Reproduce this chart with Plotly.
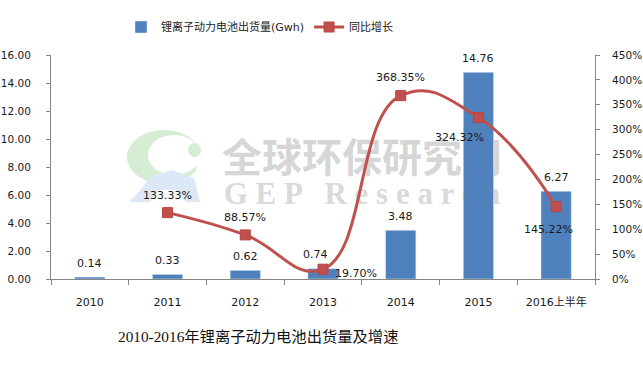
import plotly.graph_objects as go
import numpy as np

# ---------------- data ----------------
categories = ["2010", "2011", "2012", "2013", "2014", "2015", "2016上半年"]
shipments = [0.14, 0.33, 0.62, 0.74, 3.48, 14.76, 6.27]          # Gwh
growth = [None, 1.3333, 0.8857, 0.1970, 3.6835, 3.2432, 1.4522]   # YoY
growth_labels = ["", "133.33%", "88.57%", "19.70%", "368.35%", "324.32%", "145.22%"]
bar_labels = ["0.14", "0.33", "0.62", "0.74", "3.48", "14.76", "6.27"]
bar_name = "锂离子动力电池出货量(Gwh)"
line_name = "同比增长"
title_text = "2010-2016年锂离子动力电池出货量及增速"
wm_cn = "全球环保研究网"
wm_en = "G E P   R e s e a r c h"

# ---------------- layout geometry (pixels) ----------------
W, H = 643, 366
L, R, T, B = 51, 595, 55, 279
PW, PH = R - L, B - T

def px(x):
    return (x - L) / PW

def py(y):
    return (B - y) / PH

BLUE = "#4F81BD"
RED = "#C0504D"
AX = "#868686"
TXT = "#1a1a1a"
FONT = "DejaVu Sans, Verdana, sans-serif"
CJK = "DejaVu Sans, Noto Sans CJK SC, sans-serif"

fig = go.Figure()

# watermark on the hidden base subplot (drawn beneath the data subplots)
fig.add_trace(go.Scatter(x=[px(362)], y=[py(162)], mode="text", text=[wm_cn],
                         textfont=dict(family="Noto Sans CJK SC", size=40, color="#D6D6D6", weight="bold"),
                         xaxis="x", yaxis="y", showlegend=False, hoverinfo="skip"))
fig.add_trace(go.Scatter(x=[px(362)], y=[py(196)], mode="text", text=[wm_en],
                         textfont=dict(family="Liberation Serif", size=31, color="#DADADA", weight="bold"),
                         xaxis="x", yaxis="y", showlegend=False, hoverinfo="skip"))

# bars
fig.add_trace(go.Bar(x=categories, y=shipments, name=bar_name, marker=dict(color=BLUE),
                     width=0.39, xaxis="x2", yaxis="y2"))
# growth line
fig.add_trace(go.Scatter(x=categories, y=growth, name=line_name, mode="lines+markers",
                         line=dict(color=RED, width=3, shape="spline", smoothing=1.3),
                         marker=dict(symbol="square", size=10, color=RED,
                                     line=dict(color="#B8433F", width=1)),
                         xaxis="x2", yaxis="y3", connectgaps=False))

annotations = []
# bar value labels (category axis: annotation x is the category index)
bar_dx = [0, 0, 0, -8, 0, 0, 0]
for i, (v, t, dx) in enumerate(zip(shipments, bar_labels, bar_dx)):
    annotations.append(dict(x=i, y=v, xref="x2", yref="y2", text=t, showarrow=False,
                            yshift=14, xshift=dx, font=dict(family=FONT, size=11, color=TXT)))
# growth labels
offs = [(0, 0), (0, 17), (0, 17), (33, -4), (0, 18), (-19, -20), (-8, -23)]
for i, (g, t, (dx, dy)) in enumerate(zip(growth, growth_labels, offs)):
    if g is None:
        continue
    annotations.append(dict(x=i, y=g, xref="x2", yref="y3", text=t, showarrow=False,
                            xshift=dx, yshift=dy, font=dict(family=FONT, size=11, color=TXT)))
# title
annotations.append(dict(x=px(258), y=py(347), xref="paper", yref="paper", text=title_text,
                        showarrow=False, font=dict(family="Liberation Serif, Noto Sans CJK SC", size=15.3, color="#111")))

# logo (decorative) in pixel coords -> paper
shapes = []
th = np.linspace(np.radians(35), np.radians(330), 60)
outer = [(164 + 37 * np.cos(a), 157 - 27 * np.sin(a)) for a in th]
th2 = th[::-1]
inner = [(174 + 26 * np.cos(a), 155 - 20 * np.sin(a)) for a in th2]
pts = outer + inner
path = "M " + " L ".join(f"{px(x):.4f},{py(y):.4f}" for x, y in pts) + " Z"
shapes.append(dict(type="path", path=path, xref="paper", yref="paper", fillcolor="#D5EDD3",
                   line=dict(width=0), layer="below"))
shapes.append(dict(type="circle", xref="paper", yref="paper", x0=px(188), x1=px(201), y0=py(157), y1=py(143),
                   fillcolor="#D5EDD3", line=dict(width=0), layer="below"))
tri = [(130, 202), (152, 176), (172, 170), (194, 178), (200, 202), (186, 202), (176, 190), (158, 190), (150, 202)]
path2 = "M " + " L ".join(f"{px(x):.4f},{py(y):.4f}" for x, y in tri) + " Z"
shapes.append(dict(type="path", path=path2, xref="paper", yref="paper", fillcolor="#DCE8F6",
                   line=dict(width=0), layer="below"))

fig.update_layout(
    width=W, height=H,
    margin=dict(l=L, r=W - R, t=T, b=H - B, pad=0, autoexpand=False),
    paper_bgcolor="white", plot_bgcolor="white",
    showlegend=True,
    legend=dict(orientation="h", x=px(121), y=py(27), xanchor="left", yanchor="middle",
                font=dict(family=CJK, size=11, color="#222"), bgcolor="rgba(0,0,0,0)",
                tracegroupgap=0),
    xaxis=dict(domain=[0, 1], range=[0, 1], visible=False, fixedrange=True, automargin=False),
    yaxis=dict(domain=[0, 1], range=[0, 1], visible=False, fixedrange=True, automargin=False),
    xaxis2=dict(overlaying="x", anchor="y2", type="category", categoryorder="array",
                categoryarray=categories, range=[-0.5, len(categories) - 0.5], autorange=False,
                showline=True, linecolor=AX, linewidth=1, tickangle=0, automargin=False,
                ticks="outside", tickson="boundaries", ticklen=5, tickcolor=AX, showgrid=False,
                tickfont=dict(family=CJK, size=11, color=TXT), ticklabelstandoff=13, zeroline=False),
    yaxis2=dict(overlaying="y", anchor="x2", side="left", range=[0, 16], dtick=2, tickformat=".2f",
                showline=True, linecolor=AX, linewidth=1, ticks="outside", ticklen=4, tickcolor=AX,
                showgrid=False, zeroline=False, tickfont=dict(family=FONT, size=10.5, color=TXT),
                ticklabelstandoff=13, automargin=False),
    yaxis3=dict(overlaying="y", anchor="x2", side="right", range=[0, 4.5], dtick=0.5, tickformat=".0%",
                showline=True, linecolor=AX, linewidth=1, ticks="outside", ticklen=4, tickcolor=AX,
                showgrid=False, zeroline=False, tickfont=dict(family=FONT, size=10.5, color=TXT),
                ticklabelstandoff=10, automargin=False),
    bargap=0.61,
    annotations=annotations,
    shapes=shapes,
)

fig.write_html("out.html", config={"displayModeBar": False},
               post_script="document.body.style.margin='0';document.body.style.overflow='hidden';")
